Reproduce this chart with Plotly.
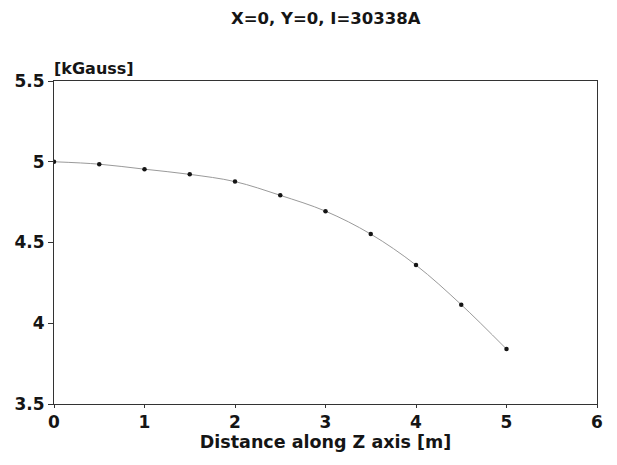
import plotly.graph_objects as go

z_m = [0, 0.5, 1, 1.5, 2, 2.5, 3, 3.5, 4, 4.5, 5]
b_kgauss = [5.0, 4.985, 4.954, 4.922, 4.877, 4.792, 4.694, 4.552, 4.36, 4.115, 3.84]
x_ticks = [0, 1, 2, 3, 4, 5, 6]
y_ticks = [3.5, 4, 4.5, 5, 5.5]
y_tick_text = ["3.5", "4", "4.5", "5", "5.5"]

FONT = "DejaVu Sans, Arial, sans-serif"
INK = "#151515"

fig = go.Figure()
fig.add_trace(go.Scatter(
    x=z_m, y=b_kgauss, mode="lines+markers",
    line=dict(color="#9a9a9a", width=1, shape="spline"),
    marker=dict(color=INK, size=4.5, symbol="circle"),
    showlegend=False,
))

fig.update_layout(
    width=617, height=465,
    margin=dict(l=46, r=28, t=73, b=69),
    paper_bgcolor="white", plot_bgcolor="white",
    title=dict(text="X=0, Y=0, I=30338A", x=0.515, xanchor="center", y=0.978, yanchor="middle",
               font=dict(family=FONT, size=16.5, color=INK, weight="bold")),
    font=dict(family=FONT, color=INK),
)
fig.update_xaxes(
    range=[0, 6], tickvals=x_ticks, showgrid=False, zeroline=False, automargin=False,
    showline=True, linecolor="#333", linewidth=1, mirror=True,
    ticks="outside", ticklen=3, tickcolor="#333",
    tickfont=dict(family=FONT, size=17, color=INK, weight="bold"),
    title=dict(text="Distance along Z axis [m]", standoff=3,
               font=dict(family=FONT, size=17.5, color=INK, weight="bold")),
)
fig.update_yaxes(
    range=[3.5, 5.5], tickvals=y_ticks, ticktext=y_tick_text, showgrid=False, zeroline=False,
    automargin=False,
    showline=True, linecolor="#333", linewidth=1, mirror=True,
    ticks="outside", ticklen=5, tickcolor="#333",
    tickfont=dict(family=FONT, size=17, color=INK, weight="bold"),
)
fig.add_annotation(text="[kGauss]", xref="paper", yref="paper", x=0, y=1.0,
                   xanchor="left", yanchor="bottom", yshift=1, xshift=-2, showarrow=False,
                   font=dict(family=FONT, size=16, color=INK, weight="bold"))

fig.write_html("out.html")
